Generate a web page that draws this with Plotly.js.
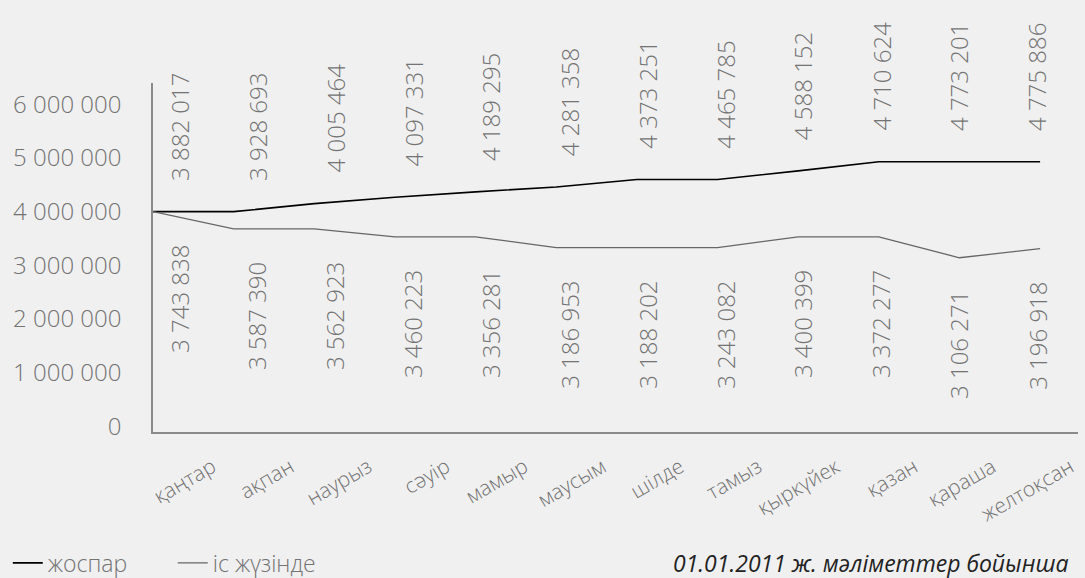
<!DOCTYPE html>
<html>
<head>
<meta charset="utf-8">
<script src="https://cdn.plot.ly/plotly-3.0.1.min.js"></script>
<style>
  html, body { margin: 0; padding: 0; background: #f0f0f0; }
  #chart { width: 1085px; height: 578px; }
</style>
</head>
<body>
<div id="chart"></div>
<script>
// Months (x categories)
const months = ['қаңтар', 'ақпан', 'наурыз', 'сәуір', 'мамыр', 'маусым',
                'шілде', 'тамыз', 'қыркүйек', 'қазан', 'қараша', 'желтоқсан'];

// Line values as drawn in the picture
const planLine   = [4000000, 4000000, 4150000, 4270000, 4370000, 4460000,
                    4600000, 4600000, 4760000, 4930000, 4930000, 4930000];
const actualLine = [4000000, 3680000, 3680000, 3530000, 3530000, 3330000,
                    3330000, 3330000, 3530000, 3530000, 3140000, 3310000];

// Value labels printed on the chart
const planLabels   = ['3 882 017', '3 928 693', '4 005 464', '4 097 331', '4 189 295', '4 281 358',
                      '4 373 251', '4 465 785', '4 588 152', '4 710 624', '4 773 201', '4 775 886'];
const actualLabels = ['3 743 838', '3 587 390', '3 562 923', '3 460 223', '3 356 281', '3 186 953',
                      '3 188 202', '3 243 082', '3 400 399', '3 372 277', '3 106 271', '3 196 918'];

const yTicks = [0, 1000000, 2000000, 3000000, 4000000, 5000000, 6000000];

const seriesNames = ['жоспар', 'іс жүзінде'];
const footnote = '01.01.2011 ж. мәліметтер бойынша';

const idx = months.map((m, i) => i);
const FONT = '"Open Sans", "DejaVu Sans", sans-serif';
const GRAY = '#737373';

const traces = [
  {
    x: idx, y: planLine, type: 'scatter', mode: 'lines', name: seriesNames[0],
    text: months, hovertemplate: '%{text}: %{y}<extra></extra>',
    line: { color: '#000000', width: 1.6 }
  },
  {
    x: idx, y: actualLine, type: 'scatter', mode: 'lines', name: seriesNames[1],
    text: months, hovertemplate: '%{text}: %{y}<extra></extra>',
    line: { color: '#666666', width: 1.3 }
  }
];

const annotations = [];
idx.forEach(i => {
  annotations.push({
    x: i, y: planLine[i], xref: 'x2', yref: 'y',
    text: planLabels[i], textangle: -90, showarrow: false,
    xanchor: 'center', yanchor: 'bottom', xshift: -33, yshift: 29,
    font: { family: FONT, size: 24, color: GRAY, weight: 300 }
  });
  annotations.push({
    x: i, y: actualLine[i], xref: 'x2', yref: 'y',
    text: actualLabels[i], textangle: -90, showarrow: false,
    xanchor: 'center', yanchor: 'top', xshift: -33, yshift: -31,
    font: { family: FONT, size: 24, color: GRAY, weight: 300 }
  });
});
annotations.push({
  x: 0.991, y: -0.375, xref: 'paper', yref: 'paper',
  text: '<i>' + footnote + '</i>', showarrow: false,
  xanchor: 'right', yanchor: 'middle',
  font: { family: FONT, size: 23, color: '#222222' }
});

const layout = {
  width: 1085, height: 578,
  paper_bgcolor: '#f0f0f0', plot_bgcolor: '#f0f0f0',
  margin: { l: 153, r: 7, t: 83, b: 146, autoexpand: false },
  separators: '. ',
  font: { family: FONT, color: GRAY },
  showlegend: true,
  legend: {
    orientation: 'h', x: -0.157, xanchor: 'left', y: -0.375, yanchor: 'middle',
    font: { family: FONT, size: 23, color: GRAY, weight: 300 },
    bgcolor: 'rgba(0,0,0,0)', entrywidth: 120, entrywidthmode: 'pixels'
  },
  xaxis: {
    range: [0, 11.47], showline: true, linecolor: '#8a8a8a', linewidth: 1.5,
    showgrid: false, zeroline: false, showticklabels: false, ticks: '', fixedrange: true
  },
  xaxis2: {
    overlaying: 'x', anchor: 'y', side: 'bottom',
    range: [-0.76, 11.1], tickmode: 'array', tickvals: idx, ticktext: months,
    tickangle: -30, showline: false, showgrid: false, zeroline: false, ticks: '',
    ticklabelstandoff: 18,
    tickfont: { family: FONT, size: 21, color: GRAY, weight: 300 }
  },
  yaxis: {
    range: [-110000, 6400000], tickmode: 'array', tickvals: yTicks, tickformat: ',d',
    showline: true, linecolor: '#8a8a8a', linewidth: 1.5,
    showgrid: false, zeroline: false, ticks: '', ticklabelstandoff: 25,
    tickfont: { family: FONT, size: 24, color: GRAY, weight: 300 }
  },
  annotations: annotations
};

Plotly.newPlot('chart', traces, layout, { displayModeBar: false, responsive: false });
</script>
</body>
</html>
